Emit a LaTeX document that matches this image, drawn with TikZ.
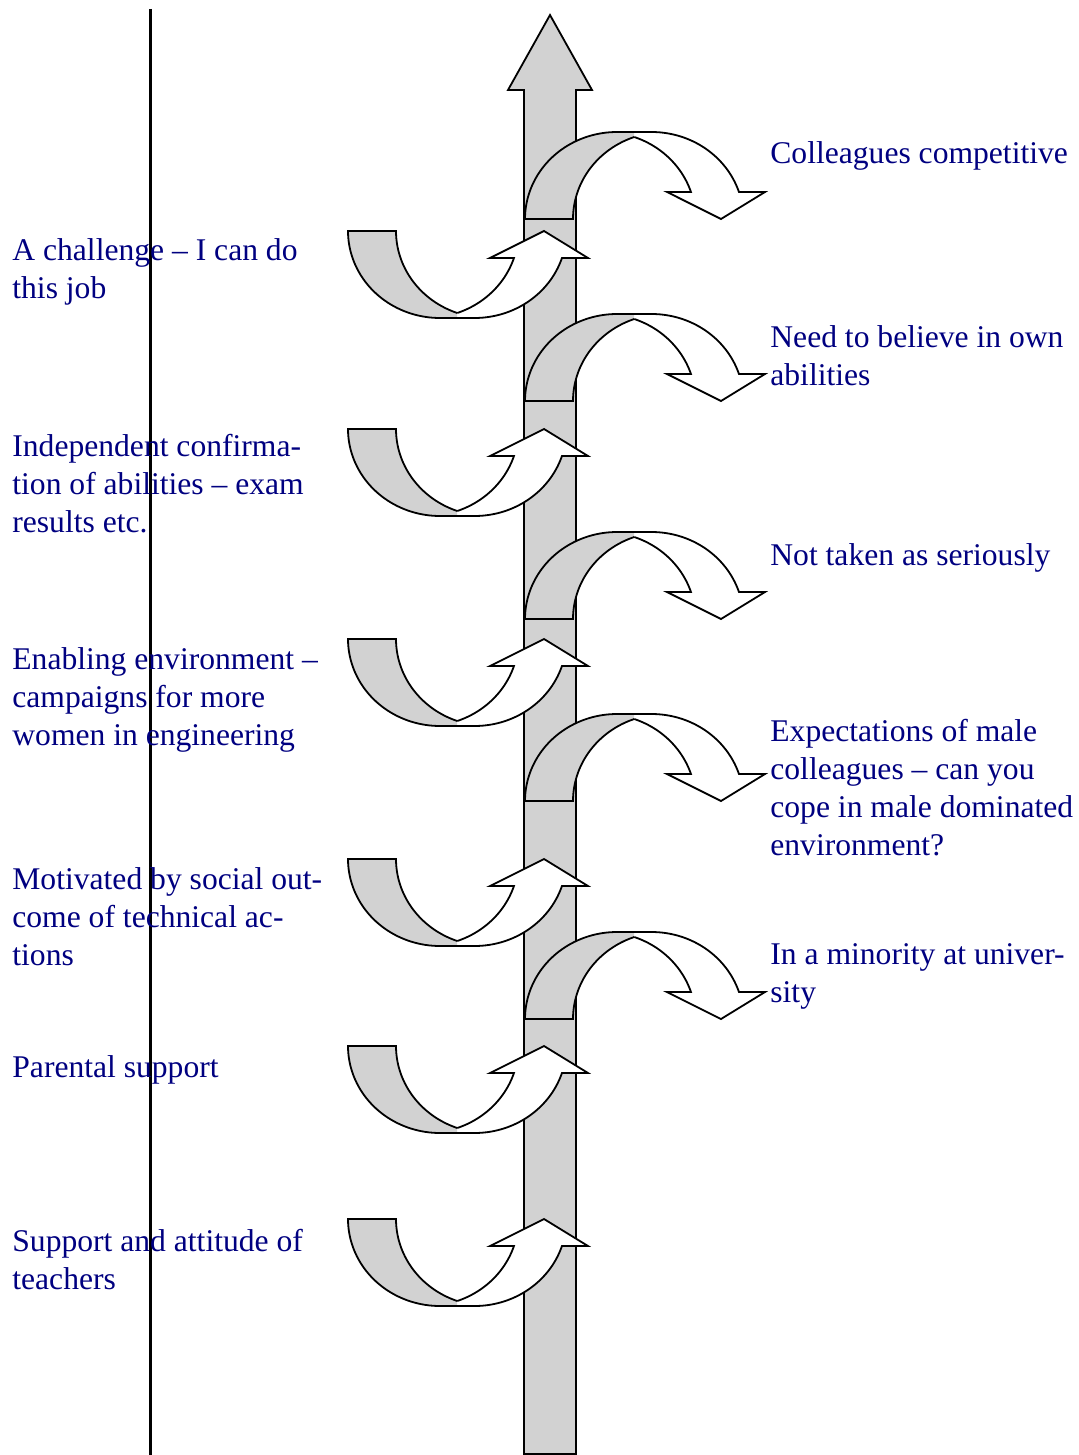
\documentclass[tikz,border=0pt]{standalone}
\usepackage{fontspec}
\setmainfont{Liberation Serif}
\definecolor{navyt}{RGB}{0,0,128}
\definecolor{bandgray}{RGB}{210,210,210}
\tikzset{
  outl/.style={draw=black, line width=0.9pt, line join=miter},
  lbl/.style={anchor=base west, align=left, inner sep=0pt, text=navyt,
    font=\fontsize{15.8}{19}\selectfont},
  cup/.pic={
    \fill[bandgray] (0,0) -- (48,0)
      -- plot[domain=180:109.53,samples=40] ({140+92*cos(\x)},{87*sin(\x)})
      -- (109.25,87) -- (92,87)
      -- plot[domain=90:180,samples=40] ({92+92*cos(\x)},{87*sin(\x)}) -- cycle;
    \draw[outl] plot[domain=90:180,samples=40] ({92+92*cos(\x)},{87*sin(\x)})
      -- (48,0)
      -- plot[domain=180:109.53,samples=40] ({140+92*cos(\x)},{87*sin(\x)});
    \fill[white] (109.25,82)
      -- plot[domain=70.47:18.08,samples=40] ({78.5+92*cos(\x)},{87*sin(\x)})
      -- (142,27) -- (196,0) -- (240,27)
      -- plot[domain=18.08:90,samples=40] ({126.5+92*cos(\x)},{87*sin(\x)})
      -- (109.25,87) -- cycle;
    \draw[outl] (109.25,82)
      -- plot[domain=70.47:18.08,samples=40] ({78.5+92*cos(\x)},{87*sin(\x)})
      -- (142,27) -- (196,0) -- (240,27)
      -- plot[domain=18.08:90,samples=40] ({126.5+92*cos(\x)},{87*sin(\x)})
      -- (92,87);
  }
}
\begin{document}
\begin{tikzpicture}[x=0.5pt,y=-0.5pt]
\useasboundingbox (0,0) rectangle (1079,1455);
% left vertical rule
\coordinate (vtop) at (150.5,9);
\coordinate (vbot) at (150.5,1455);
\draw[line width=1.5pt] (vtop) -- (vbot);
% main upward arrow
\filldraw[outl, fill=bandgray] (524,1454) -- (524,90) -- (508,90) -- (550,15)
  -- (592,90) -- (576,90) -- (576,1454) -- cycle;
% curved arrows
\pic[yscale=-1] at (525,219) {cup};
\pic at (348,231) {cup};
\pic[yscale=-1] at (525,401) {cup};
\pic at (348,429) {cup};
\pic[yscale=-1] at (525,619) {cup};
\pic at (348,639) {cup};
\pic[yscale=-1] at (525,801) {cup};
\pic at (348,859) {cup};
\pic[yscale=-1] at (525,1019) {cup};
\pic at (348,1046) {cup};
\pic at (348,1219) {cup};
% labels left (anchored at the baseline of the last line)
\node[lbl] (l1) at (12,299) {A challenge – I can do\\this job};
\node[lbl] (l2) at (12,532) {Independent confirma-\\tion of abilities – exam\\results etc.};
\node[lbl] (l3) at (12,745) {Enabling environment –\\campaigns for more\\women in engineering};
\node[lbl] (l4) at (12,965) {Motivated by social out-\\come of technical ac-\\tions};
\node[lbl] (l5) at (12,1077) {Parental support};
\node[lbl] (l6) at (12,1289) {Support and attitude of\\teachers};
% labels right
\node[lbl] (r1) at (770,164) {Colleagues competitive};
\node[lbl] (r2) at (770,385) {Need to believe in own\\abilities};
\node[lbl] (r3) at (770,565) {Not taken as seriously};
\node[lbl] (r4) at (770,855) {Expectations of male\\colleagues – can you\\cope in male dominated\\environment?};
\node[lbl] (r5) at (770,1002) {In a minority at univer-\\sity};
\end{tikzpicture}
\end{document}
